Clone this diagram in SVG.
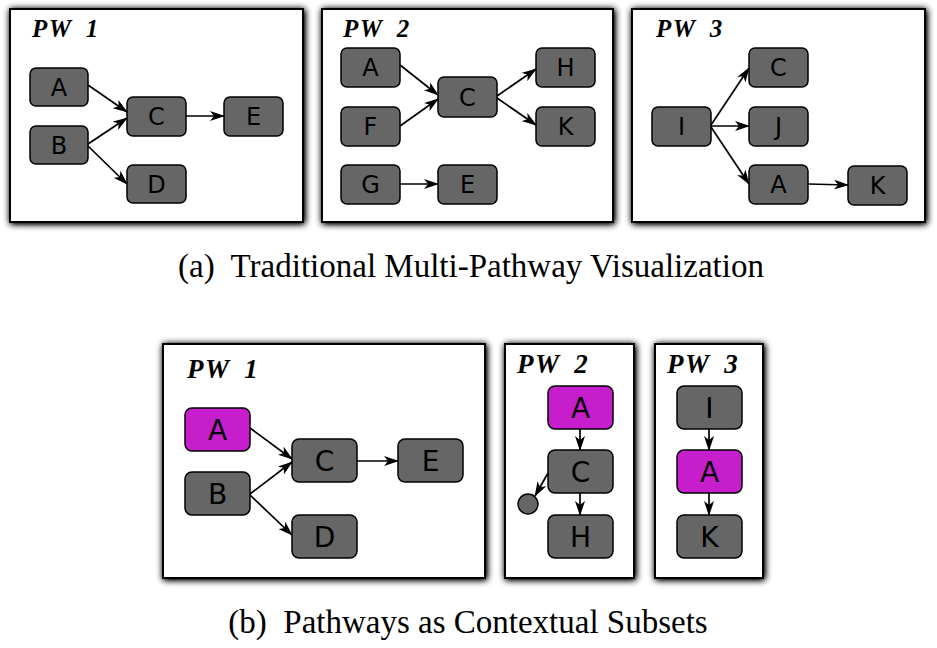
<svg xmlns="http://www.w3.org/2000/svg" width="937" height="648" viewBox="0 0 937 648">
<defs>
<filter id="sh" x="-10%" y="-10%" width="120%" height="120%">
<feGaussianBlur in="SourceAlpha" stdDeviation="3.5"/>
<feOffset dx="1" dy="1"/>
<feComponentTransfer><feFuncA type="linear" slope="1.4"/></feComponentTransfer>
<feMerge><feMergeNode/><feMergeNode in="SourceGraphic"/></feMerge>
</filter>
<marker id="ar" viewBox="0 0 15 10" refX="14" refY="5" markerWidth="15" markerHeight="10" markerUnits="userSpaceOnUse" orient="auto">
<path d="M0,0 L15,5 L0,10 L4,5 z" fill="#000"/>
</marker>
</defs>
<style>
.panel{fill:#fff;stroke:#000;stroke-width:2;filter:url(#sh)}
.n rect{fill:#666;stroke:#000;stroke-width:1.5}
.n.m rect{fill:#c71ecd}
.n text{font-family:"DejaVu Sans",sans-serif;font-size:24px;text-anchor:middle;fill:#000}
.b text{font-size:28px}
.pw{font-family:"Liberation Serif",serif;font-style:italic;font-weight:bold;font-size:25px;letter-spacing:1.5px;word-spacing:6px}
.pwb{font-size:27px}
.cap{font-family:"Liberation Serif",serif;font-size:33px;text-anchor:middle;fill:#000}
.e line{stroke:#000;stroke-width:1.7;marker-end:url(#ar)}
</style>

<!-- panels -->
<rect class="panel" x="10" y="9" width="293" height="213"/>
<rect class="panel" x="322" y="9" width="291" height="213"/>
<rect class="panel" x="632" y="9" width="293" height="213"/>
<rect class="panel" x="163" y="344" width="322" height="234"/>
<rect class="panel" x="505" y="344" width="129" height="234"/>
<rect class="panel" x="655" y="344" width="108" height="234"/>

<text class="pw" x="32" y="37">PW 1</text>
<text class="pw" x="343" y="37">PW 2</text>
<text class="pw" x="656" y="37">PW 3</text>
<text class="pw pwb" x="187" y="378">PW 1</text>
<text class="pw pwb" x="517" y="373">PW 2</text>
<text class="pw pwb" x="667" y="373">PW 3</text>

<g id="edges" class="e">
<line x1="88" y1="85" x2="127" y2="112"/>
<line x1="88" y1="144" x2="127" y2="118"/>
<line x1="88" y1="146" x2="127" y2="184"/>
<line x1="186" y1="116" x2="224" y2="116"/>

<line x1="400" y1="65" x2="438" y2="95"/>
<line x1="400" y1="126" x2="438" y2="99"/>
<line x1="497" y1="96" x2="536" y2="69"/>
<line x1="497" y1="98" x2="536" y2="125"/>
<line x1="400" y1="184" x2="438" y2="184"/>

<line x1="711" y1="125" x2="749" y2="68"/>
<line x1="711" y1="126" x2="749" y2="126"/>
<line x1="711" y1="127" x2="749" y2="184"/>
<line x1="808" y1="184" x2="848" y2="185"/>

<line x1="250" y1="428" x2="292" y2="459"/>
<line x1="250" y1="494" x2="292" y2="462"/>
<line x1="250" y1="495" x2="292" y2="535"/>
<line x1="357" y1="461" x2="398" y2="461"/>

<line x1="580" y1="429" x2="580" y2="450"/>
<line x1="580" y1="493" x2="580" y2="515"/>
<line x1="548" y1="473" x2="535" y2="496"/>

<line x1="709" y1="429" x2="709" y2="450"/>
<line x1="709" y1="493" x2="709" y2="515"/>
</g>

<!-- top panel 1 -->
<g id="t1A" class="n"><rect x="30" y="68" width="58" height="38" rx="6"/><text x="59" y="96">A</text></g>
<g id="t1B" class="n"><rect x="30" y="126" width="58" height="38" rx="6"/><text x="59" y="154">B</text></g>
<g id="t1C" class="n"><rect x="127" y="97" width="59" height="39" rx="6"/><text x="156.5" y="125">C</text></g>
<g id="t1E" class="n"><rect x="224" y="97" width="59" height="39" rx="6"/><text x="253.5" y="125">E</text></g>
<g id="t1D" class="n"><rect x="127" y="165" width="59" height="38" rx="6"/><text x="156.5" y="193">D</text></g>

<!-- top panel 2 -->
<g id="t2A" class="n"><rect x="341" y="48" width="59" height="39" rx="6"/><text x="370.5" y="76">A</text></g>
<g id="t2F" class="n"><rect x="341" y="107" width="59" height="39" rx="6"/><text x="370.5" y="135">F</text></g>
<g id="t2G" class="n"><rect x="341" y="165" width="59" height="39" rx="6"/><text x="370.5" y="193">G</text></g>
<g id="t2C" class="n"><rect x="438" y="77" width="59" height="40" rx="6"/><text x="467.5" y="106">C</text></g>
<g id="t2H" class="n"><rect x="536" y="48" width="59" height="39" rx="6"/><text x="565.5" y="76">H</text></g>
<g id="t2K" class="n"><rect x="536" y="107" width="59" height="39" rx="6"/><text x="565.5" y="135">K</text></g>
<g id="t2E" class="n"><rect x="438" y="165" width="59" height="39" rx="6"/><text x="467.5" y="193">E</text></g>

<!-- top panel 3 -->
<g id="t3C" class="n"><rect x="749" y="48" width="59" height="39" rx="6"/><text x="778.5" y="76">C</text></g>
<g id="t3J" class="n"><rect x="749" y="107" width="59" height="39" rx="6"/><text x="778.5" y="135">J</text></g>
<g id="t3A" class="n"><rect x="749" y="165" width="59" height="39" rx="6"/><text x="778.5" y="193">A</text></g>
<g id="t3I" class="n"><rect x="652" y="107" width="59" height="39" rx="6"/><text x="681.5" y="135">I</text></g>
<g id="t3K" class="n"><rect x="848" y="166" width="59" height="39" rx="6"/><text x="877.5" y="194">K</text></g>

<!-- bottom panel 1 -->
<g id="b1A" class="n m b"><rect x="185" y="408" width="65" height="43" rx="7"/><text x="217.5" y="440">A</text></g>
<g id="b1B" class="n b"><rect x="185" y="472" width="65" height="43" rx="7"/><text x="217.5" y="504">B</text></g>
<g id="b1C" class="n b"><rect x="292" y="439" width="65" height="43" rx="7"/><text x="324.5" y="471">C</text></g>
<g id="b1E" class="n b"><rect x="398" y="439" width="65" height="43" rx="7"/><text x="430.5" y="471">E</text></g>
<g id="b1D" class="n b"><rect x="292" y="515" width="65" height="43" rx="7"/><text x="324.5" y="547">D</text></g>

<!-- bottom panel 2 -->
<g id="b2A" class="n m b"><rect x="548" y="386" width="65" height="43" rx="7"/><text x="580.5" y="418">A</text></g>
<g id="b2C" class="n b"><rect x="548" y="450" width="65" height="43" rx="7"/><text x="580.5" y="482">C</text></g>
<g id="b2H" class="n b"><rect x="548" y="515" width="65" height="43" rx="7"/><text x="580.5" y="547">H</text></g>
<g id="b2dot" class="n"><circle cx="528" cy="504" r="10" fill="#666" stroke="#000" stroke-width="1.5"/></g>

<!-- bottom panel 3 -->
<g id="b3I" class="n b"><rect x="677" y="386" width="65" height="43" rx="7"/><text x="709.5" y="418">I</text></g>
<g id="b3A" class="n m b"><rect x="677" y="450" width="65" height="43" rx="7"/><text x="709.5" y="482">A</text></g>
<g id="b3K" class="n b"><rect x="677" y="515" width="65" height="43" rx="7"/><text x="709.5" y="547">K</text></g>

<text class="cap" x="471" y="277" xml:space="preserve">(a)  Traditional Multi-Pathway Visualization</text>
<text class="cap" x="468" y="633" xml:space="preserve">(b)  Pathways as Contextual Subsets</text>
</svg>
